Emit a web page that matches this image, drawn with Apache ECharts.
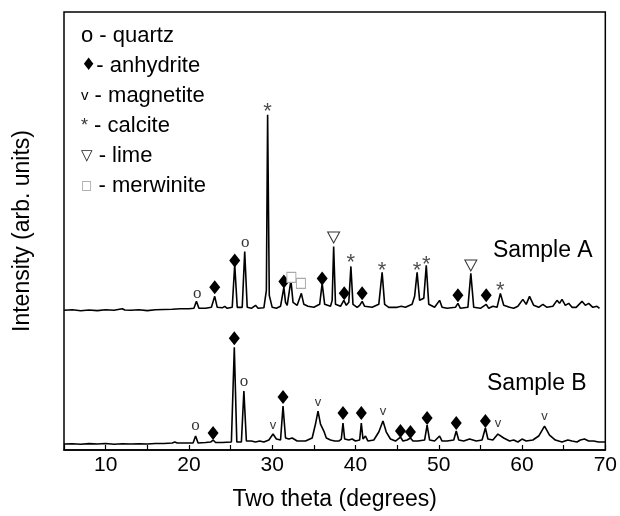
<!DOCTYPE html>
<html>
<head>
<meta charset="utf-8">
<script src="https://cdn.jsdelivr.net/npm/echarts@6/dist/echarts.min.js"></script>
<style>
html, body { margin: 0; padding: 0; background: #fff; }
#chart { width: 620px; height: 516px; }
</style>
</head>
<body>
<div id="chart"></div>
<script>
// XRD patterns, two theta (deg) vs intensity (arb. units, baseline 0)
var sampleA = [
    [5,0],[6,0.5],[7,-0.5],[8,0.3],[9,-0.3],[10,0.5],[11,0],[12,1.5],[12.3,0.3],[13,0],[14,0.5],[15,-0.3],
    [16,0.5],[17,0.8],[18,1],[19,1.5],[20,1.5],[20.6,2],[20.9,9],[21.2,2],[22,2],[22.7,3],[23.1,14],[23.4,3],
    [24,2.5],[24.3,4],[24.6,2],[25.2,3],[25.5,46],[25.8,3],[26.4,3],[26.7,59],[27,3],[27.5,2],[28,5],[28.3,2],
    [29,2.5],[29.3,20],[29.45,196],[29.65,15],[30,3],[30.5,2],[31,4],[31.4,23],[31.6,8],[31.8,5],[32.25,30],
    [32.5,8],[33,5],[33.5,17],[33.8,6],[34.3,4],[35,3],[35.7,6],[36,27],[36.3,6],[37,4],[37.2,10],[37.38,64],
    [37.6,6],[38.2,4],[38.6,10],[38.9,5],[39.2,8],[39.45,44],[39.7,6],[40.2,3],[40.5,5],[40.8,9],[41.1,4],
    [42,3],[42.8,6],[43.2,38],[43.5,6],[44,3],[45,3],[45.5,4],[46,3],[46.8,6],[47.1,14],[47.4,38],[47.7,10],
    [48.2,12],[48.5,45],[48.8,6],[49.5,3],[50.1,10],[50.4,3],[51,2],[52,3],[52.3,7],[52.6,2],[53.5,3],
    [53.85,37],[54.2,3],[55,2],[55.7,6],[56,2],[56.5,4],[57,3],[57.4,17],[57.8,5],[58.5,3],[59,2],[59.5,4],
    [60.1,11],[60.5,6],[60.9,14],[61.4,5],[62,3],[62.5,6],[63,3],[63.7,4],[64.2,10],[64.5,7],[64.8,11],
    [65.2,5],[65.6,7],[66,3],[66.5,3],[67.2,9],[67.6,5],[68,7],[68.5,3],[69,4],[69.3,2]
];
var sampleB = [
    [5,0],[6,0.3],[7,-0.3],[8,0.4],[9,0],[10,0.5],[11,-0.3],[12,0.3],[13,0],[14,0.3],[15,0],[16,0.5],
    [17,0.5],[18,1],[18.3,2],[18.6,1],[19.5,1],[20.5,1],[20.8,8],[21.1,1],[22,1.5],[22.6,2],[22.9,4],
    [23.2,1.5],[24,1.5],[25.1,2],[25.45,97],[25.75,2],[26.3,2],[26.6,53],[26.9,3],[27.5,3],[28,2],[28.5,3],
    [29,2],[29.6,4],[30.1,10],[30.5,5],[31,4],[31.3,38],[31.6,6],[32,5],[32.4,6],[33,3],[34,3],[34.8,6],
    [35.2,20],[35.5,33],[35.8,20],[36.2,13],[36.5,6],[37,4],[37.5,3],[38,3],[38.3,5],[38.5,21],[38.7,5],
    [39.2,4],[39.6,5],[40,3],[40.5,4],[40.7,21],[40.9,5],[41.2,8],[41.5,3],[42.2,4],[42.8,12],[43.3,23],
    [43.7,12],[44.2,5],[44.8,3],[45.4,7],[45.7,3],[46.2,4],[46.6,6],[46.9,3],[47.5,3],[48.3,4],[48.6,19],
    [48.9,4],[49.5,3],[50.1,8],[50.4,3],[51,3],[51.8,4],[52.1,13],[52.4,4],[53,3],[53.7,5],[54.5,3],
    [55.2,4],[55.6,16],[55.9,5],[56.5,4],[57.1,10],[57.8,6],[58.5,3],[59,4],[59.5,2],[60,5],[60.5,3],
    [61.3,4],[62,8],[62.7,18],[63.3,9],[64,4],[64.8,2],[65.5,4],[66,3],[66.6,2],[67,4],[67.5,5],[68,3],
    [68.6,3],[69.2,2],[70,2]
];
var offsetA = 140;
var offsetB = 6;

// phase markers, [two theta, plotted intensity]
var quartz = [[21.0,155],[26.75,206],[20.8,23],[26.6,67]];
var anhydrite = [[23.1,163],[25.5,190],[31.4,169],[36.0,172],[38.65,157],[40.8,157],[52.3,155],[55.7,155],
    [22.9,17],[25.45,112],[31.3,53],[38.5,37],[40.7,37],[45.4,19],[46.6,18],[48.6,32],[52.1,27],[55.6,29]];
var magnetite = [[30.1,24],[35.5,47],[43.3,38],[57.1,26],[62.7,33]];
var calcite = [[29.45,344],[39.45,192],[43.2,184],[47.4,184],[48.5,190],[57.4,164]];
var lime = [[37.38,213],[53.85,185]];
var merwinite = [[32.3,173],[33.45,167]];

var xTicks = [10, 20, 30, 40, 50, 60, 70];
var legendLines = ['o - quartz', '{d|\u2666}- anhydrite', '{v|v} - magnetite', '{s|*} - calcite',
    '{t|\u25BD} - lime', '{g|\u25A1} - merwinite'];

function shift(data, off) {
    var res = [];
    for (var i = 0; i < data.length; i++) res.push([data[i][0], data[i][1] + off]);
    return res;
}

function glyphSeries(data, glyph, font, size, color, dy) {
    return {
        type: 'scatter', data: data, symbolSize: 1, itemStyle: { color: 'rgba(0,0,0,0)' },
        silent: true, z: 5,
        label: {
            show: true, position: 'inside', formatter: glyph, offset: [0, dy || 0],
            fontFamily: font, fontSize: size, color: color
        }
    };
}

var chart = echarts.init(document.getElementById('chart'));
var font = 'Liberation Sans, Arial';
var legendGraphics = [];
for (var i = 0; i < legendLines.length; i++) {
    legendGraphics.push({
        type: 'text', left: 81, top: 25 + i * 30,
        style: {
            text: legendLines[i], fontFamily: font, fontSize: 22, fill: '#000',
            rich: {
                d: { fontSize: 17, fill: '#000', fontFamily: 'DejaVu Sans' },
                v: { fontSize: 15, fill: '#000', fontFamily: font },
                s: { fontSize: 18, fill: '#333', fontFamily: font },
                t: { fontSize: 15, fill: '#222', fontFamily: 'DejaVu Sans' },
                g: { fontSize: 12, fill: '#999', fontFamily: 'DejaVu Sans' }
            }
        }
    });
}
legendGraphics.push({ type: 'text', left: 493, top: 239, style: { text: 'Sample A', fontFamily: font, fontSize: 23, fill: '#000' } });
legendGraphics.push({ type: 'text', left: 487, top: 372, style: { text: 'Sample B', fontFamily: font, fontSize: 23, fill: '#000' } });

var option = {
    animation: false,
    backgroundColor: '#fff',
    grid: { left: 64, right: 10, top: 12, bottom: 65, show: true, borderColor: '#000', borderWidth: 1.5 },
    xAxis: {
        type: 'value', min: 5, max: 70, interval: 5,
        name: 'Two theta (degrees)', nameLocation: 'middle', nameGap: 38,
        nameTextStyle: { fontFamily: font, fontSize: 23, color: '#000' },
        axisLine: { lineStyle: { color: '#000', width: 1.5 } },
        axisTick: { inside: true, length: 5, lineStyle: { color: '#000', width: 1.2 } },
        axisLabel: {
            margin: 5, fontFamily: font, fontSize: 21, color: '#000',
            formatter: function (v) { return xTicks.indexOf(v) >= 0 ? String(v) : ''; }
        },
        splitLine: { show: false }
    },
    yAxis: {
        type: 'value', min: 0, max: 439,
        name: 'Intensity (arb. units)', nameLocation: 'middle', nameGap: 30,
        nameTextStyle: { fontFamily: font, fontSize: 23, color: '#000' },
        axisLine: { show: false }, axisTick: { show: false }, axisLabel: { show: false },
        splitLine: { show: false }
    },
    graphic: legendGraphics,
    series: [
        { type: 'line', data: shift(sampleA, offsetA), showSymbol: false, lineStyle: { color: '#000', width: 1.6 }, silent: true },
        { type: 'line', data: shift(sampleB, offsetB), showSymbol: false, lineStyle: { color: '#000', width: 1.6 }, silent: true },
        { type: 'scatter', data: anhydrite, symbol: 'diamond', symbolSize: [11, 14], itemStyle: { color: '#000', opacity: 1 }, z: 5 },
        { type: 'scatter', data: lime, symbol: 'triangle', symbolRotate: 180, symbolSize: [12, 11],
          itemStyle: { color: '#fff', borderColor: '#333', borderWidth: 1, opacity: 1 }, z: 5 },
        { type: 'scatter', data: merwinite, symbol: 'rect', symbolSize: [9, 10],
          itemStyle: { color: '#fff', borderColor: '#aaa', borderWidth: 1, opacity: 1 }, z: 5 },
        glyphSeries(quartz, 'o', 'Liberation Serif', 17, '#000', -2),
        glyphSeries(magnetite, 'v', 'Liberation Sans', 13, '#000', -1),
        glyphSeries(calcite, '*', 'Liberation Sans', 22, '#222', 5)
    ]
};
chart.setOption(option);
</script>
</body>
</html>
